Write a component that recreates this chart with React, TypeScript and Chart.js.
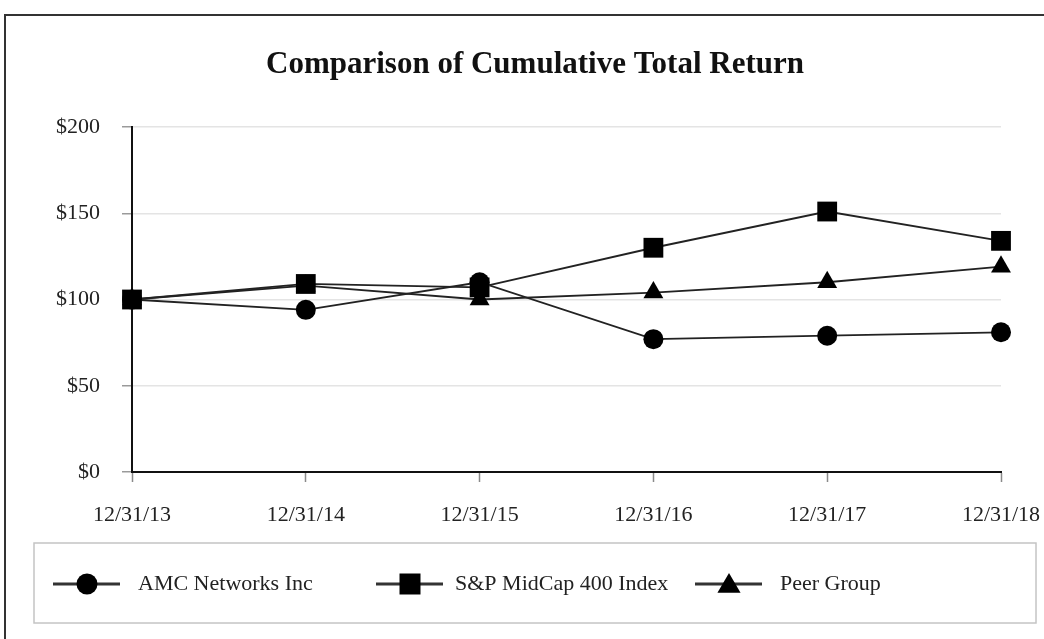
import React, { useEffect, useRef } from 'react';
import { Chart, registerables } from 'chart.js';

Chart.register(...registerables);

const categories = ['12/31/13', '12/31/14', '12/31/15', '12/31/16', '12/31/17', '12/31/18'];
const amcValues = [100, 94, 110, 77, 79, 81];
const spValues = [100, 109, 107, 130, 151, 134];
const peerValues = [100, 108, 100, 104, 110, 119];
const seriesNames = ['AMC Networks Inc', 'S&P MidCap 400 Index', 'Peer Group'];
const yTickValues = [0, 50, 100, 150, 200];
const titleText = 'Comparison of Cumulative Total Return';

const FONT = "'Liberation Serif', 'Times New Roman', serif";

const framePlugin = {
  id: 'frame',
  beforeDraw(chart: any) {
    const ctx = chart.ctx;
    ctx.save();
    ctx.fillStyle = '#ffffff';
    ctx.fillRect(0, 0, chart.width, chart.height);
    ctx.strokeStyle = '#333333';
    ctx.lineWidth = 2;
    ctx.beginPath();
    ctx.moveTo(chart.width, 15);
    ctx.lineTo(5, 15);
    ctx.lineTo(5, chart.height);
    ctx.stroke();
    ctx.fillStyle = '#111111';
    ctx.font = `bold 31px ${FONT}`;
    ctx.textAlign = 'center';
    ctx.textBaseline = 'middle';
    ctx.fillText(titleText, 535, 65);
    ctx.restore();
  },
};

function drawMarker(ctx: CanvasRenderingContext2D, style: string, x: number, y: number, s: number) {
  ctx.beginPath();
  if (style === 'circle') {
    ctx.arc(x, y, s, 0, Math.PI * 2);
  } else if (style === 'rect') {
    ctx.rect(x - s, y - s, 2 * s, 2 * s);
  } else {
    ctx.moveTo(x, y - s);
    ctx.lineTo(x + s * 1.05, y + s * 0.8);
    ctx.lineTo(x - s * 1.05, y + s * 0.8);
    ctx.closePath();
  }
  ctx.fill();
}

const legendPlugin = {
  id: 'boxLegend',
  afterDraw(chart: any) {
    const ctx = chart.ctx;
    ctx.save();
    ctx.strokeStyle = '#c4c4c4';
    ctx.lineWidth = 1.5;
    ctx.strokeRect(34, 543, 1002, 80);
    const starts = [53, 376, 695];
    const textX = [138, 455, 780];
    const cy = 584;
    chart.data.datasets.forEach((ds: any, i: number) => {
      const x0 = starts[i];
      ctx.strokeStyle = '#333333';
      ctx.lineWidth = 3;
      ctx.beginPath();
      ctx.moveTo(x0, cy);
      ctx.lineTo(x0 + 67, cy);
      ctx.stroke();
      ctx.fillStyle = '#000000';
      drawMarker(ctx, ds.pointStyle, x0 + 34, cy, ds.pointStyle === 'triangle' ? 11 : 10.5);
      ctx.fillStyle = '#222222';
      ctx.font = `22px ${FONT}`;
      ctx.textAlign = 'left';
      ctx.textBaseline = 'middle';
      ctx.fillText(ds.label, textX[i], cy);
    });
    ctx.restore();
  },
};

export default function App() {
  const canvasRef = useRef<HTMLCanvasElement | null>(null);

  useEffect(() => {
    if (!canvasRef.current) return;
    const mk = (label: string, data: number[], style: string, radius: number) => ({
      label,
      data,
      borderColor: '#222222',
      borderWidth: 1.8,
      backgroundColor: '#000000',
      pointBackgroundColor: '#000000',
      pointBorderColor: '#000000',
      pointBorderWidth: 0,
      pointStyle: style,
      pointRadius: radius,
      pointHoverRadius: radius,
      tension: 0,
      fill: false,
      clip: false,
    });
    const chart = new Chart(canvasRef.current, {
      type: 'line',
      data: {
        labels: categories,
        datasets: [
          mk(seriesNames[0], amcValues, 'circle', 10),
          mk(seriesNames[1], spValues, 'rect', 14),
          mk(seriesNames[2], peerValues, 'triangle', 11.5),
        ],
      },
      plugins: [framePlugin, legendPlugin],
      options: {
        responsive: false,
        animation: false,
        layout: { padding: { left: 0, top: 127, right: 43, bottom: 0 } },
        plugins: {
          legend: { display: false },
          title: { display: false },
          tooltip: { enabled: false },
        },
        scales: {
          x: {
            type: 'category',
            offset: false,
            afterFit(scale: any) {
              scale.height = 167;
              scale.paddingLeft = 0;
              scale.paddingRight = 0;
            },
            grid: {
              display: true,
              drawOnChartArea: false,
              drawTicks: true,
              tickLength: 10,
              tickColor: '#8a8a8a',
              tickWidth: 1.5,
            },
            border: { display: true, color: '#111111', width: 2 },
            ticks: {
              font: { family: FONT, size: 22 },
              color: '#222222',
              padding: 20,
              maxRotation: 0,
              autoSkip: false,
            },
          },
          y: {
            min: 0,
            max: 200,
            afterFit(scale: any) {
              scale.width = 132;
              scale.paddingTop = 0;
              scale.paddingBottom = 0;
            },
            afterBuildTicks(scale: any) {
              scale.ticks = yTickValues.map((v) => ({ value: v }));
            },
            grid: {
              color: '#e4e4e4',
              lineWidth: 1.5,
              tickLength: 10,
              tickColor: '#9a9a9a',
              tickWidth: 1.5,
            },
            border: { display: true, color: '#111111', width: 2 },
            ticks: {
              font: { family: FONT, size: 22 },
              color: '#222222',
              padding: 22,
              callback: (v: any) => '$' + v,
            },
          },
        },
      },
    } as any);
    return () => chart.destroy();
  }, []);

  return (
    <div style={{ position: 'absolute', left: 0, top: 0, width: 1044, height: 639 }}>
      <canvas ref={canvasRef} width={1044} height={639} style={{ width: 1044, height: 639 }} />
    </div>
  );
}
